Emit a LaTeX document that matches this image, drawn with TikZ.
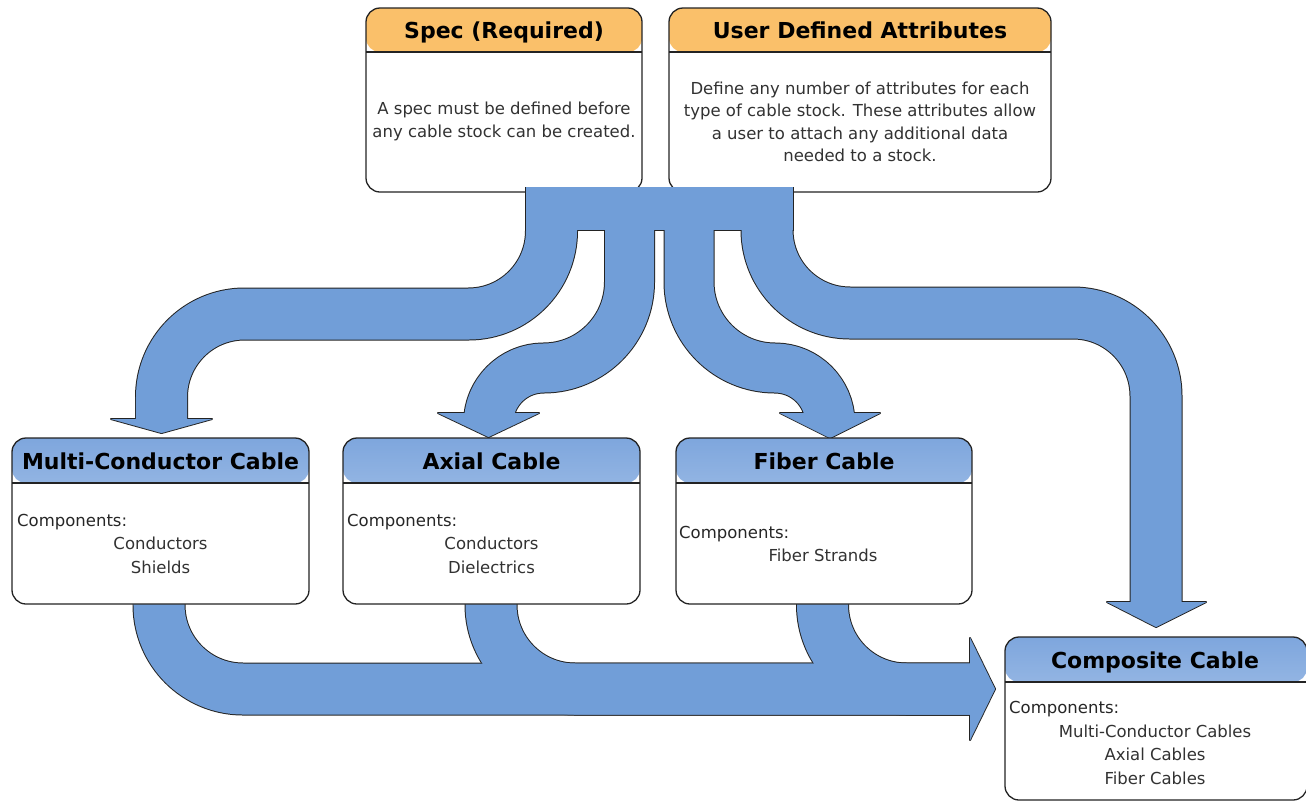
\documentclass[tikz,border=0pt]{standalone}
\usepackage{fontspec}
\setmainfont{DejaVu Sans}
\definecolor{arrowblue}{RGB}{113,158,216}
\definecolor{hdrorange}{RGB}{250,192,106}
\definecolor{hdrtop}{RGB}{126,166,221}
\definecolor{hdrbot}{RGB}{208,224,244}
\definecolor{edge}{RGB}{35,35,35}
\definecolor{bodytext}{RGB}{50,50,50}
\tikzset{
  box/.style={draw=edge, line width=1.3pt, rounded corners=14pt, fill=white, inner sep=0pt, outer sep=0pt, anchor=north west},
  ohead/.style={box, path picture={
      \fill[hdrorange] (path picture bounding box.north west) rectangle ([yshift=-44pt]path picture bounding box.north east);
      \draw[edge, line width=1.3pt] ([yshift=-44pt]path picture bounding box.north west) -- ([yshift=-44pt]path picture bounding box.north east);}},
  bhead/.style={box, path picture={
      \shade[top color=hdrtop, bottom color=hdrbot, middle color=hdrtop!55!hdrbot] (path picture bounding box.north west) rectangle ([yshift=-45pt]path picture bounding box.north east);
      \draw[edge, line width=1.3pt] ([yshift=-45pt]path picture bounding box.north west) -- ([yshift=-45pt]path picture bounding box.north east);}},
  hdr/.style={font=\fontsize{22}{26}\selectfont\bfseries, text=black, anchor=base, inner sep=0pt},
  bodyline/.style={font=\fontsize{16.5}{20}\selectfont, text=bodytext, anchor=base, inner sep=0pt},
  comp/.style={font=\fontsize{16.5}{20}\selectfont, text=black!85, anchor=base west, inner sep=0pt},
}
\begin{document}
\begin{tikzpicture}[x=1pt,y=-1pt]
\useasboundingbox (0,0) rectangle (1306,801);

% top boxes
\node[ohead, minimum width=276pt, minimum height=184pt] (spec) at (366,8) {};
\node[ohead, minimum width=382pt, minimum height=184pt] (uda) at (669,8) {};
\node[hdr] (spect) at (504,38) {Spec (Required)};
\node[bodyline] (spec1) at (504,114) {A spec must be defined before};
\node[bodyline] (spec2) at (504,137.5) {any cable stock can be created.};
\node[hdr] (udat) at (860,38) {User Defined Attributes};
\node[bodyline] (uda1) at (860,94) {Define any number of attributes for each};
\node[bodyline] (uda2) at (860,116.5) {type of cable stock. These attributes allow};
\node[bodyline] (uda3) at (860,139) {a user to attach any additional data};
\node[bodyline] (uda4) at (860,161.5) {needed to a stock.};

% arrows: outline pass, then fill pass
\foreach \c/\w/\d in {edge/2/1, arrowblue/0.01/0} {
  \fill[\c] (526-\d,187) rectangle (793+\d,230+\d);
  % to multi-conductor
  \draw[\c, line width={51+\w}, line cap=butt, line join=round]
    (551.5,187) -- (551.5,231) arc[start angle=0,end angle=90,radius=83]
    -- (244.5,314) arc[start angle=270,end angle=180,radius=83] -- (161.5,421);
  % to axial
  \draw[\c, line width={49+\w}, line cap=butt, line join=round]
    (629.5,187) -- (629.5,282) arc[start angle=0,end angle=90,radius=86]
    arc[start angle=270,end angle=180,radius=55];
  % to fiber
  \draw[\c, line width={49+\w}, line cap=butt, line join=round]
    (689,187) -- (689,282) arc[start angle=180,end angle=90,radius=86]
    arc[start angle=270,end angle=360,radius=55];
  % to composite
  \draw[\c, line width={51+\w}, line cap=butt, line join=round]
    (767,187) -- (767,230) arc[start angle=180,end angle=90,radius=83]
    -- (1073,313) arc[start angle=270,end angle=360,radius=83] -- (1156,604);
  % bottom merging arrows
  \draw[\c, line width={51+\w}, line cap=butt, line join=round]
    (159,590) -- (159,605) arc[start angle=180,end angle=90,radius=84] -- (972,689);
  \draw[\c, line width={51+\w}, line cap=butt, line join=round]
    (491,590) -- (491,605) arc[start angle=180,end angle=90,radius=84] -- (972,689);
  \draw[\c, line width={51+\w}, line cap=butt, line join=round]
    (822.5,590) -- (822.5,605) arc[start angle=180,end angle=90,radius=84] -- (972,689);
  % heads
  \filldraw[fill=\c, draw=\c, line width=\w, line join=round] (111,419) -- (161.5,433) -- (212,419) -- cycle;
  \filldraw[fill=\c, draw=\c, line width=\w, line join=round] (438,413) -- (488.5,437) -- (539,413) -- cycle;
  \filldraw[fill=\c, draw=\c, line width=\w, line join=round] (780,413) -- (830,438) -- (880,413) -- cycle;
  \filldraw[fill=\c, draw=\c, line width=\w, line join=round] (1107,602) -- (1156,627) -- (1206,602) -- cycle;
  \filldraw[fill=\c, draw=\c, line width=\w, line join=round] (970,638) -- (995,689) -- (970,740) -- cycle;
}

% middle boxes
\node[bhead, minimum width=297pt, minimum height=166pt] (multi) at (12,438) {};
\node[bhead, minimum width=297pt, minimum height=166pt] (axial) at (343,438) {};
\node[bhead, minimum width=296pt, minimum height=166pt] (fiber) at (676,438) {};
\node[bhead, minimum width=302pt, minimum height=163pt] (composite) at (1005,637) {};

\node[hdr] (multit) at (160.5,469) {Multi-Conductor Cable};
\node[comp] (multic) at (17,526) {Components:};
\node[bodyline] (multi1) at (160.5,549.5) {Conductors};
\node[bodyline] (multi2) at (160.5,573) {Shields};

\node[hdr] (axialt) at (491.5,469) {Axial Cable};
\node[comp] (axialc) at (347,526) {Components:};
\node[bodyline] (axial1) at (491.5,549.5) {Conductors};
\node[bodyline] (axial2) at (491.5,573) {Dielectrics};

\node[hdr] (fibert) at (824,469) {Fiber Cable};
\node[comp] (fiberc) at (679,538) {Components:};
\node[bodyline] (fiber1) at (823,561) {Fiber Strands};

\node[hdr] (compt) at (1155,668) {Composite Cable};
\node[comp] (compc) at (1009,713) {Components:};
\node[bodyline] (comp1) at (1155,737) {Multi-Conductor Cables};
\node[bodyline] (comp2) at (1155,760) {Axial Cables};
\node[bodyline] (comp3) at (1155,784) {Fiber Cables};
\end{tikzpicture}
\end{document}
